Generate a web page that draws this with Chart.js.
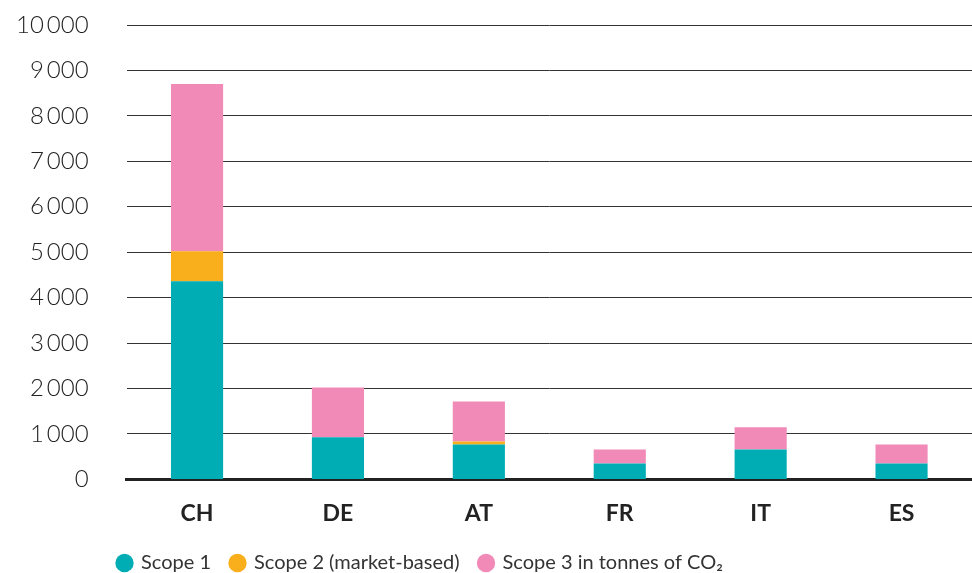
<!DOCTYPE html>
<html>
<head>
<meta charset="utf-8">
<script src="https://cdn.jsdelivr.net/npm/chart.js@4"></script>
<style>
  html, body { margin: 0; padding: 0; background: #fff; }
  #wrap { width: 972px; height: 573px; position: relative; }
</style>
</head>
<body>
<div id="wrap"><canvas id="chart"></canvas></div>
<script>
// Emissions by country
const countries = ['CH', 'DE', 'AT', 'FR', 'IT', 'ES'];
const scope1 = [4360, 925, 770, 350, 660, 350];
const scope2 = [660, 0, 65, 0, 0, 0];
const scope3 = [3680, 1100, 880, 310, 485, 420];
const yTicks = [0, 1000, 2000, 3000, 4000, 5000, 6000, 7000, 8000, 9000, 10000];

const fmt = v => v >= 1000 ? String(v).replace(/\B(?=(\d{3})+(?!\d))/g, '\u2009') : String(v);

// legend sits a bit right of the canvas edge and close to the bottom
const legendShift = {
  id: 'legendShift',
  afterLayout(chart) {
    chart.legend.left += 86;
    chart.legend.top -= 6;
  }
};

new Chart(document.getElementById('chart'), {
  type: 'bar',
  data: {
    labels: countries,
    datasets: [
      { label: 'Scope 1', data: scope1, backgroundColor: '#00adb5' },
      { label: 'Scope 2 (market-based)', data: scope2, backgroundColor: '#f9ae1b' },
      { label: 'Scope 3 in tonnes of CO\u2082', data: scope3, backgroundColor: '#f18ab7' }
    ]
  },
  plugins: [legendShift],
  options: {
    responsive: true,
    maintainAspectRatio: false,
    animation: false,
    layout: { padding: { left: 12, right: 0, top: 25, bottom: -16 } },
    datasets: { bar: { categoryPercentage: 1, barPercentage: 0.37 } },
    plugins: {
      legend: {
        position: 'bottom',
        align: 'start',
        labels: {
          usePointStyle: true,
          pointStyle: 'circle',
          boxWidth: 13,
          boxHeight: 13,
          padding: 20,
          color: '#333',
          font: { family: 'Lato', size: 20 }
        }
      },
      tooltip: { enabled: false }
    },
    scales: {
      x: {
        stacked: true,
        grid: { display: false },
        border: { color: '#222', width: 3 },
        ticks: { color: '#222', padding: 12, font: { family: 'Lato', weight: 'bold', size: 23 } }
      },
      y: {
        stacked: true,
        min: 0,
        max: 10000,
        afterBuildTicks: axis => { axis.ticks = yTicks.map(v => ({ value: v })); },
        border: { display: false },
        grid: { color: '#333', lineWidth: 1, drawTicks: true, tickLength: 34, tickColor: 'rgba(0,0,0,0)' },
        ticks: {
          color: '#222',
          padding: 4,
          font: { family: 'Lato', size: 24, weight: '300' },
          callback: v => fmt(v)
        }
      }
    }
  }
});
</script>
</body>
</html>
